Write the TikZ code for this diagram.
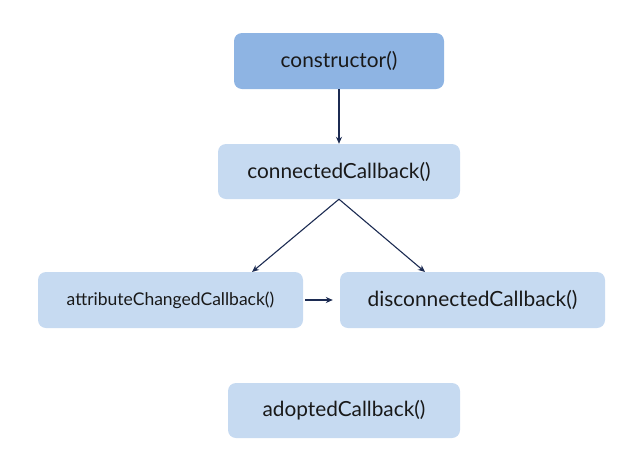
\documentclass[tikz,border=0pt]{standalone}
\usepackage{fontspec}
\setmainfont{Lato}
\usetikzlibrary{positioning}
\usetikzlibrary{arrows.meta}

\definecolor{hookdark}{HTML}{8EB4E3}
\definecolor{hooklight}{HTML}{C6DAF1}
\definecolor{arrowblue}{HTML}{1C2B52}

\tikzset{
	hook/.style={rounded corners=8pt,fill=hooklight,draw=none,inner sep=0pt,
		font=\fontsize{20.8}{24}\selectfont,text=black!90},
	link/.style={line width=1.1pt,draw=arrowblue,-{Stealth[length=7pt,width=6pt]}}
}

\begin{document}
\begin{tikzpicture}[x=1pt,y=-1pt]
	\useasboundingbox (0,0) rectangle (640,472);
	\node[hook,fill=hookdark,minimum width=210pt,minimum height=56pt] (ctor) at (339,61) {constructor()};
	\node[hook,minimum width=242pt,minimum height=55pt] (conn) at (339,171.5) {connectedCallback()};
	\node[hook,minimum width=265pt,minimum height=56pt,font=\fontsize{17.5}{21}\selectfont] (attr) at (170.5,300) {attributeChangedCallback()};
	\node[hook,minimum width=265pt,minimum height=56pt,font=\fontsize{20.9}{24}\selectfont] (disc) at (472.5,300) {disconnectedCallback()};
	\node[hook,minimum width=232pt,minimum height=55pt] (adopt) at (344,410.5) {adoptedCallback()};
	\coordinate (attrin) at (252,272);
	\coordinate (discin) at (425,272);
	\draw[link] (ctor) -- (conn);
	\draw[link] (conn.south) -- (attrin);
	\draw[link] (conn.south) -- (discin);
	\draw[link] ([xshift=2pt]attr.east) -- ([xshift=-7pt]disc.west);
\end{tikzpicture}
\end{document}
